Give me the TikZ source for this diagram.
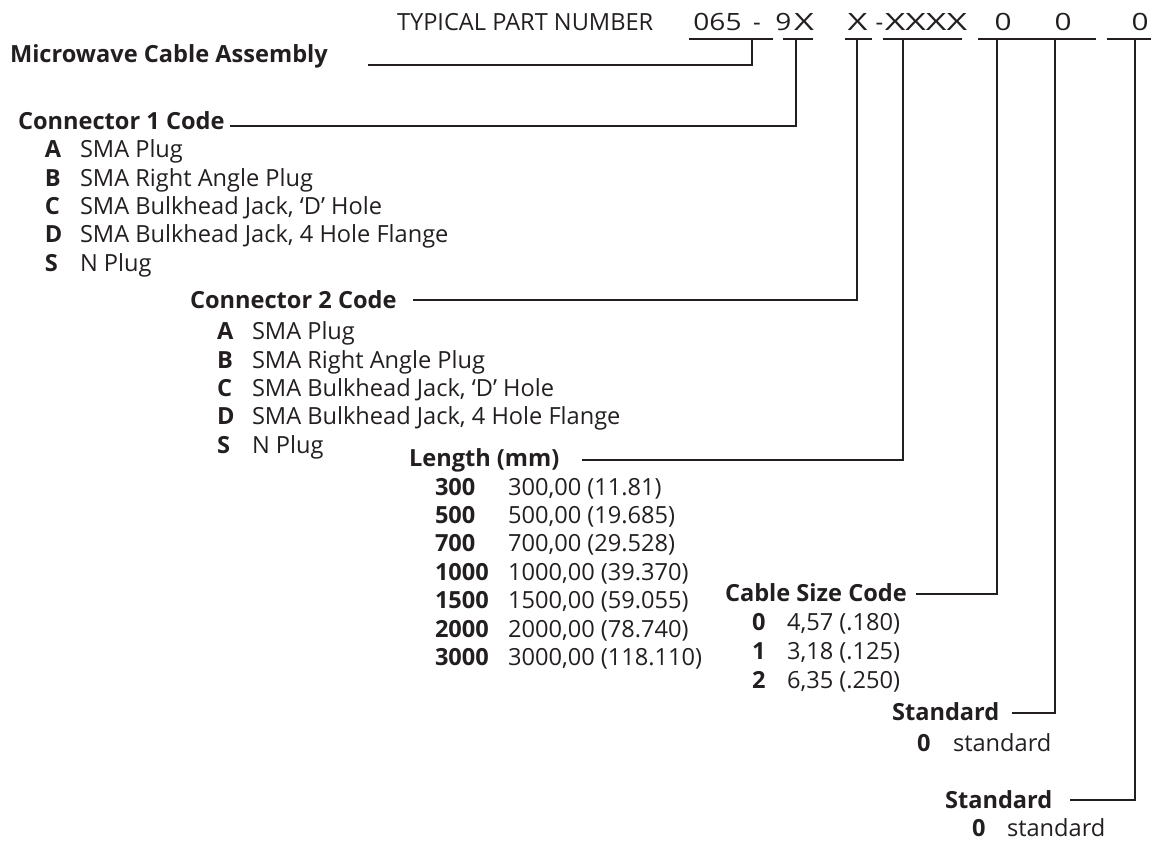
\documentclass[tikz,border=0pt]{standalone}
\usepackage{fontspec}
\setmainfont{Open Sans}
\definecolor{ink}{HTML}{231F20}
\begin{document}
\begin{tikzpicture}[x=1pt,y=-1pt,
  txt/.style={anchor=base west, inner sep=0pt, outer sep=0pt, text=ink, font=\fontsize{23.6}{28}\selectfont},
  hd/.style={txt, font=\fontsize{23.6}{28}\selectfont\bfseries},
  pn/.style={anchor=base, inner sep=0pt, outer sep=0pt, text=ink, font=\fontsize{23.8}{28}\selectfont},
  lead/.style={draw=ink, line width=2pt}]
\useasboundingbox (0,0) rectangle (1152,842);

% header row
\node[txt] (typ) at (397,31) {TYPICAL PART NUMBER};
\node[pn] (p1) at (717.5,31) {\scalebox{1.18}[1]{065}};
\node[pn] (p1b) at (757,31) {-};
\node[pn] (p1c) at (783.5,31) {\scalebox{1.18}[1]{9}};
\node[pn] (p2) at (804,31) {\scalebox{1.45}[1]{X}};
\node[pn] (p3) at (857.5,31) {\scalebox{1.45}[1]{X}};
\node[pn] (p4) at (879.5,31) {-};
\node[pn] (p5) at (926,31) {\scalebox{1.5}[1]{XXXX}};
\node[pn] (p6) at (1003,31) {\scalebox{1.25}[1]{0}};
\node[pn] (p7) at (1063,31) {\scalebox{1.25}[1]{0}};
\node[pn] (p8) at (1140,31) {\scalebox{1.25}[1]{0}};

% underlines
\coordinate (u1s) at (689,39); \coordinate (u1e) at (773,39);
\coordinate (u2s) at (783,39); \coordinate (u2e) at (813,39);
\coordinate (u3s) at (845,39); \coordinate (u3e) at (872,39);
\coordinate (u4s) at (883,39); \coordinate (u4e) at (962,39);
\coordinate (u5s) at (978,39); \coordinate (u5e) at (1096,39);
\coordinate (u6s) at (1107,39); \coordinate (u6e) at (1151,39);
\foreach \n in {1,...,6} {\draw[lead] (u\n s) -- (u\n e);}

% tick points
\coordinate (k1) at (752,39);
\coordinate (k2) at (796,39);
\coordinate (k3) at (857,39);
\coordinate (k4) at (903,39);
\coordinate (k5) at (997,39);
\coordinate (k6) at (1055,39);
\coordinate (k7) at (1135,39);

% Microwave Cable Assembly
\node[hd] (mca) at (10,63) {Microwave Cable Assembly};
\coordinate (m1) at (368,65);
\draw[lead] (m1) -| (k1);

% Connector 1
\node[hd] (c1) at (18,130) {Connector 1 Code};
\coordinate (m2) at (230,126);
\draw[lead] (m2) -| (k2);
\foreach \k/\d [count=\i] in {A/SMA Plug, B/SMA Right Angle Plug, C/{SMA Bulkhead Jack, ‘D’ Hole}, D/{SMA Bulkhead Jack, 4 Hole Flange}, S/N Plug} {
  \node[hd] (c1k\i) at (45,{158+28.3*(\i-1)}) {\k};
  \node[txt] (c1d\i) at (80,{158+28.3*(\i-1)}) {\d};
}

% Connector 2
\node[hd] (c2) at (190,309) {Connector 2 Code};
\coordinate (m3) at (413,300);
\draw[lead] (m3) -| (k3);
\foreach \k/\d [count=\i] in {A/SMA Plug, B/SMA Right Angle Plug, C/{SMA Bulkhead Jack, ‘D’ Hole}, D/{SMA Bulkhead Jack, 4 Hole Flange}, S/N Plug} {
  \node[hd] (c2k\i) at (217,{340+28.3*(\i-1)}) {\k};
  \node[txt] (c2d\i) at (252,{340+28.3*(\i-1)}) {\d};
}

% Length
\node[hd] (len) at (409,466) {Length (mm)};
\coordinate (m4) at (582,460);
\draw[lead] (m4) -| (k4);
\foreach \k/\d [count=\i] in {300/{300,00 (11.81)}, 500/{500,00 (19.685)}, 700/{700,00 (29.528)}, 1000/{1000,00 (39.370)}, 1500/{1500,00 (59.055)}, 2000/{2000,00 (78.740)}, 3000/{3000,00 (118.110)}} {
  \node[hd] (lk\i) at (435,{495+28.4*(\i-1)}) {\k};
  \node[txt] (ld\i) at (508,{495+28.4*(\i-1)}) {\d};
}

% Cable size code
\node[hd] (csc) at (725,601) {Cable Size Code};
\coordinate (m5) at (916,594);
\draw[lead] (m5) -| (k5);
\foreach \k/\d [count=\i] in {0/{4,57 (.180)}, 1/{3,18 (.125)}, 2/{6,35 (.250)}} {
  \node[hd] (ck\i) at (752,{630+29*(\i-1)}) {\k};
  \node[txt] (cd\i) at (787,{630+29*(\i-1)}) {\d};
}

% Standard 1
\node[hd] (st1) at (892,720) {Standard};
\coordinate (m6) at (1012,713);
\draw[lead] (m6) -| (k6);
\node[hd] (s1k) at (917,751) {0};
\node[txt] (s1d) at (953,751) {standard};

% Standard 2
\node[hd] (st2) at (945,808) {Standard};
\coordinate (m7) at (1070,800);
\draw[lead] (m7) -| (k7);
\node[hd] (s2k) at (972,836) {0};
\node[txt] (s2d) at (1007,836) {standard};
\end{tikzpicture}
\end{document}
